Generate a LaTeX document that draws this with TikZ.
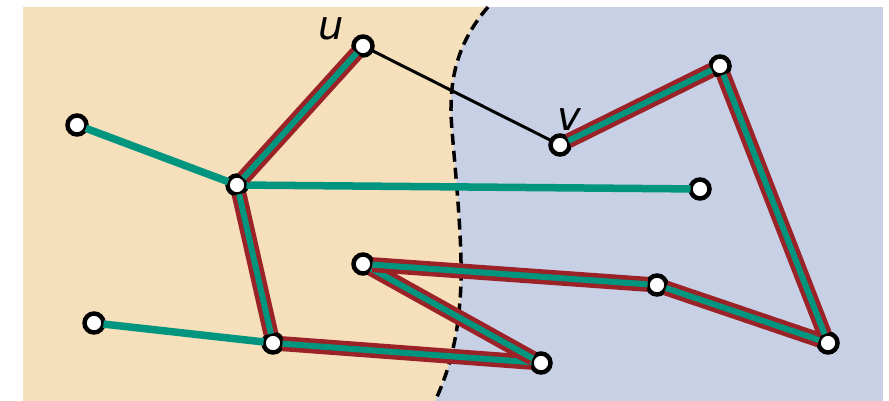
\documentclass[tikz,border=0pt]{standalone}
\usepackage{fontspec}
\setsansfont{DejaVu Sans}
\usetikzlibrary{positioning}
\definecolor{sand}{HTML}{F6E0BC}
\definecolor{slate}{HTML}{C8D0E5}
\definecolor{cutred}{HTML}{9B2227}
\definecolor{treeteal}{HTML}{00957F}

\begin{document}
\begin{tikzpicture}[x=1pt,y=-1pt,
  vtx/.style={circle,draw=black,fill=white,line width=4.5pt,minimum size=19pt,inner sep=0pt,outer sep=0pt},
  lbl/.style={font=\sffamily\itshape\fontsize{40}{40}\selectfont,inner sep=0pt},
  treeedge/.style={draw=treeteal,line width=7.5pt},
  touredge/.style={draw=cutred,double=treeteal,line width=4.5pt,double distance=6pt}]
\useasboundingbox (0,0) rectangle (889,401);
\fill[slate] (23,7) rectangle (883,401);
\fill[sand] (23,7)--(488,7) .. controls (455,45) and (448,85) .. (452,130)
            .. controls (456,180) and (464,255) .. (460,300)
            .. controls (457,345) and (446,378) .. (435,401)--(23,401)--cycle;
\draw[line width=3.5pt,dash pattern=on 11pt off 6pt]
      (488,7) .. controls (455,45) and (448,85) .. (452,130)
      .. controls (456,180) and (464,255) .. (460,300)
      .. controls (457,345) and (446,378) .. (435,401);
\node[vtx] (u) at (363,46) {};
\node[vtx] (v) at (560,145) {};
\node[vtx] (a) at (77,125) {};
\node[vtx] (b) at (237,185) {};
\node[vtx] (c) at (700,189) {};
\node[vtx] (d) at (720,66) {};
\node[vtx] (e) at (828,343) {};
\node[vtx] (f) at (657,285) {};
\node[vtx] (g) at (363,264) {};
\node[vtx] (h) at (541,363) {};
\node[vtx] (i) at (273,343) {};
\node[vtx] (j) at (94,323) {};
\node[lbl,above left=-1pt and 12pt of u] (ulbl) {u};
\node[lbl,above right=8pt and -9pt of v] (vlbl) {v};
\draw[line width=3pt] (u)--(v);
\draw[treeedge] (a)--(b);
\draw[treeedge] (b)--(c);
\draw[treeedge] (j)--(i);
\draw[touredge] (u)--(b);
\draw[touredge] (b)--(i);
\draw[touredge] (i)--(h);
\draw[touredge] (h)--(g);
\draw[touredge] (g)--(f);
\draw[touredge] (f)--(e);
\draw[touredge] (e)--(d);
\draw[touredge] (d)--(v);
\end{tikzpicture}
\end{document}
